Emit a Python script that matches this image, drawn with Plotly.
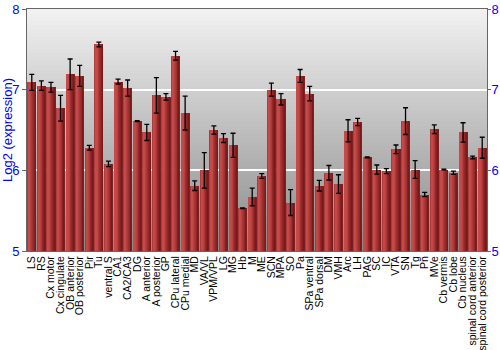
import plotly.graph_objects as go

categories = ["LS", "RS", "Cx motor", "Cx cingulate", "OB anterior", "OB posterior", "Pir", "Tu",
              "ventral S", "CA1", "CA2/CA3", "DG", "A anterior", "A posterior", "GP", "CPu lateral",
              "CPu medial", "MD", "VA/VL", "VPM/VPL", "LG", "MG", "Hb", "M", "ME", "SCN", "MPA", "SO",
              "Pa", "SPa ventral", "SPa dorsal", "DM", "VMH", "Arc", "LH", "PAG", "SC", "IC", "VTA", "SN",
              "Tg", "Pn", "MVe", "Cb vermis", "Cb lobe", "Cb nucleus", "spinal cord anterior",
              "spinal cord posterior"]
values = [7.09, 7.05, 7.03, 6.77, 7.19, 7.17, 6.28, 7.56, 6.08, 7.10, 7.02, 6.61, 6.47, 6.93, 6.91, 7.42,
          6.71, 5.81, 6.00, 6.50, 6.40, 6.31, 5.53, 5.67, 5.93, 7.00, 6.88, 5.60, 7.17, 6.95, 5.81, 5.97,
          5.83, 6.49, 6.60, 6.16, 6.01, 5.99, 6.26, 6.61, 6.01, 5.70, 6.51, 6.01, 5.97, 6.47, 6.16, 6.28]
errors = [0.10, 0.06, 0.06, 0.16, 0.19, 0.13, 0.03, 0.03, 0.035, 0.03, 0.10, 0.005, 0.10, 0.22, 0.04, 0.055,
          0.21, 0.06, 0.22, 0.05, 0.055, 0.15, 0.005, 0.11, 0.03, 0.08, 0.07, 0.16, 0.08, 0.09, 0.066, 0.09,
          0.115, 0.137, 0.045, 0.005, 0.056, 0.03, 0.054, 0.166, 0.11, 0.027, 0.054, 0.005, 0.02, 0.12,
          0.017, 0.13]
y_ticks = [5, 6, 7, 8]

BASE = 5
xs = list(range(len(categories)))
heights = [v - BASE for v in values]

fig = go.Figure()

n_slices = 10
bar_w = 0.84
slice_w = bar_w / n_slices
def lerp(a, b, t):
    return tuple(int(round(a[i] + (b[i] - a[i]) * t)) for i in range(3))
for s in range(n_slices):
    t = (s + 0.5) / n_slices
    if t < 0.1:
        c = (170, 55, 55)
    elif t < 0.35:
        c = lerp((200, 78, 78), (196, 70, 70), (t - 0.1) / 0.25)
    else:
        c = lerp((196, 70, 70), (115, 22, 22), (t - 0.35) / 0.65)
    fig.add_trace(go.Bar(
        x=xs, y=heights, base=BASE, width=slice_w * 1.05, offset=-bar_w / 2 + s * slice_w,
        marker=dict(color="rgb(%d,%d,%d)" % c, line=dict(width=0)),
        opacity=0.95, showlegend=False, hoverinfo="skip"))

fig.add_trace(go.Scatter(
    x=xs, y=values, mode="markers", marker=dict(size=0.1, color="rgba(0,0,0,0)"),
    error_y=dict(type="data", array=errors, color="black", thickness=1.3, width=2.5),
    showlegend=False))

fig.add_trace(go.Scatter(x=[0], y=[5], yaxis="y2", mode="markers",
                         marker=dict(size=0.1, color="rgba(0,0,0,0)"), showlegend=False, hoverinfo="skip"))

n_bands = 60
top = (242, 242, 242)
bot = (138, 138, 138)
for i in range(n_bands):
    y0 = 5 + 3 * i / n_bands
    c = lerp(bot, top, (i + 0.5) / n_bands)
    fig.add_shape(type="rect", xref="paper", yref="y", x0=0, x1=1, y0=y0, y1=8,
                  fillcolor="rgb(%d,%d,%d)" % c, line=dict(width=0), layer="below")

fig.update_layout(
    width=500, height=350,
    margin=dict(l=27, r=13, t=9, b=99),
    paper_bgcolor="white", plot_bgcolor="white",
    barmode="overlay", bargap=0,
    font=dict(family="Liberation Sans, Arial, sans-serif"),
    xaxis=dict(tickmode="array", tickvals=xs, ticktext=categories, tickangle=-90, automargin=False,
               range=[-0.5, len(categories) - 0.5], showgrid=False, zeroline=False,
               tickfont=dict(size=10.5, color="black"), ticks="",
               showline=True, linecolor="#666666", linewidth=1, mirror=True),
    yaxis=dict(range=[5, 8], tickvals=y_ticks, showgrid=True, gridcolor="white", gridwidth=1.5,
               zeroline=False, tickfont=dict(size=13, color="blue"), ticks="outside", ticklen=4,
               tickcolor="#666666", showline=True, linecolor="#666666", linewidth=1, automargin=False,
               title=dict(text="Log2 (expression)", font=dict(size=13, color="blue"), standoff=4)),
    yaxis2=dict(range=[5, 8], tickvals=y_ticks, overlaying="y", side="right", showgrid=False,
                zeroline=False, tickfont=dict(size=13, color="blue"), ticks="outside", ticklen=3,
                ticklabelstandoff=-2,
                tickcolor="#666666", showline=True, linecolor="#666666", linewidth=1, automargin=False),
)

fig.write_html("out.html")
